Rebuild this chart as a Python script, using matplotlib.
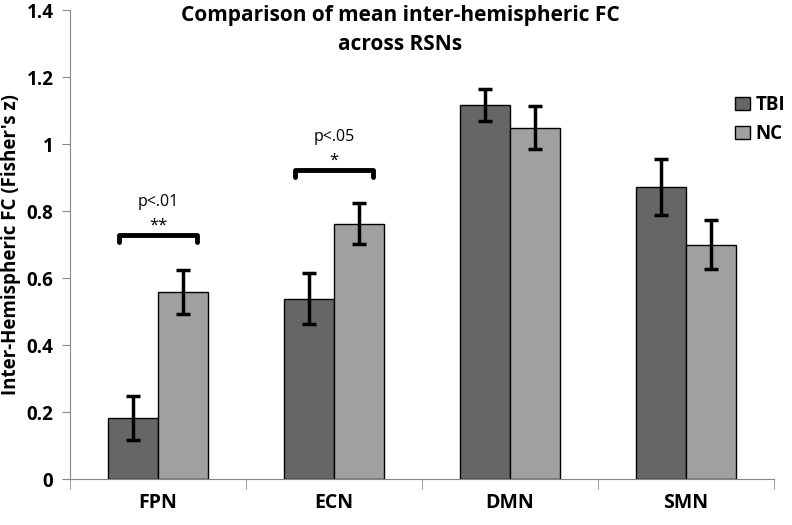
import matplotlib
matplotlib.use("Agg")
import matplotlib.pyplot as plt
import numpy as np

plt.rcParams['font.family'] = ['Open Sans', 'DejaVu Sans']

# data
networks = ["FPN", "ECN", "DMN", "SMN"]
tbi_mean = [0.182, 0.539, 1.116, 0.872]
tbi_err = [0.066, 0.076, 0.048, 0.084]
nc_mean = [0.559, 0.763, 1.049, 0.699]
nc_err = [0.065, 0.062, 0.065, 0.073]

# significance brackets: (group index, bracket height, p text, stars)
sig = [(0, 0.728, "p<.01", "**"), (1, 0.922, "p<.05", "*")]

fig = plt.figure(figsize=(7.92, 5.25), dpi=100)
ax = fig.add_axes([0.0884, 0.0876, 0.889, 0.893])

x = np.arange(len(networks))
w = 0.285
ekw = dict(elinewidth=2.5, capthick=2.5, ecolor="black")
ax.bar(x - w/2, tbi_mean, w, yerr=tbi_err, capsize=5, color="#666666",
       edgecolor="black", linewidth=1, label="TBI", error_kw=ekw)
ax.bar(x + w/2, nc_mean, w, yerr=nc_err, capsize=5, color="#a0a0a0",
       edgecolor="black", linewidth=1, label="NC", error_kw=ekw)

for i, h, ptxt, stars in sig:
    x0 = i - w/2 - 0.08
    x1 = i + w/2 + 0.08
    d = 0.02
    ax.plot([x0, x0, x1, x1], [h - d, h, h, h - d], color="black", lw=3.5,
            solid_capstyle="round", solid_joinstyle="round")
    ax.text(i, h + 0.03, stars, ha="center", va="center", fontsize=12)
    ax.text(i, h + 0.1, ptxt, ha="center", va="center", fontsize=11.5)

ax.set_xlim(-0.5, 3.5)
ax.set_ylim(0, 1.4)
ax.set_yticks(np.arange(0, 1.41, 0.2))
ax.set_yticklabels(["0", "0.2", "0.4", "0.6", "0.8", "1", "1.2", "1.4"],
                   fontsize=13.5, fontweight="bold")
ax.set_xticks(x)
ax.set_xticklabels(networks, fontsize=14, fontweight="bold")
ax.set_xticks(np.arange(-0.5, 3.6, 1), minor=True)
ax.tick_params(axis="x", which="major", length=0, pad=10)
ax.tick_params(axis="x", which="minor", length=7, color="#888888")
ax.tick_params(axis="y", length=6, color="#888888", pad=6)
for s in ["top", "right"]:
    ax.spines[s].set_visible(False)
for s in ["left", "bottom"]:
    ax.spines[s].set_color("#888888")

ax.set_ylabel("Inter-Hemispheric FC (Fisher's z)", fontsize=13.5,
              fontweight="bold", labelpad=4)
fig.text(400/792, 1 - 30/525,
         "Comparison of mean inter-hemispheric FC\nacross RSNs",
         ha="center", va="center", fontsize=15, fontweight="bold",
         linespacing=1.45)

ax.legend(loc="upper right", bbox_to_anchor=(1.04, 0.855), frameon=False,
          prop=dict(weight="bold", size=13.5), handlelength=0.8,
          handletextpad=0.3, labelspacing=0.5)

fig.savefig("out.png", dpi=100)
